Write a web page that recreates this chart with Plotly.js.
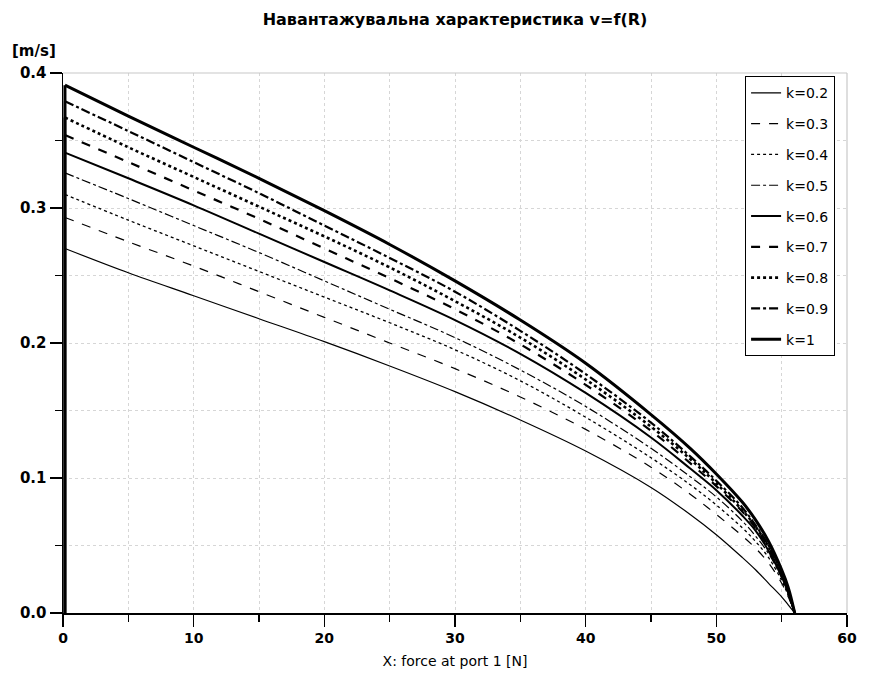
<!DOCTYPE html>
<html>
<head>
<meta charset="utf-8">
<script src="https://cdn.plot.ly/plotly-3.0.1.min.js"></script>
<style>html,body{margin:0;padding:0;background:#fff;}#chart{width:882px;height:675px;}</style>
</head>
<body>
<div id="chart"></div>
<script>
// force values [N]
const forceX = [0.15, 5, 10, 15, 20, 25, 30, 35, 40, 45, 48, 50, 52, 53, 54, 55, 55.5, 56];

// velocity [m/s] for each k
const v_k02 = [0.270, 0.252, 0.235, 0.218, 0.201, 0.183, 0.164, 0.143, 0.120, 0.093, 0.073, 0.058, 0.041, 0.032, 0.022, 0.012, 0.006, 0];
const v_k03 = [0.293, 0.275, 0.257, 0.238, 0.219, 0.200, 0.181, 0.160, 0.136, 0.108, 0.088, 0.073, 0.057, 0.048, 0.037, 0.022, 0.012, 0];
const v_k04 = [0.310, 0.291, 0.272, 0.253, 0.234, 0.215, 0.195, 0.172, 0.145, 0.115, 0.095, 0.080, 0.063, 0.053, 0.041, 0.024, 0.013, 0];
const v_k05 = [0.326, 0.307, 0.287, 0.267, 0.246, 0.225, 0.204, 0.180, 0.153, 0.122, 0.101, 0.086, 0.068, 0.057, 0.044, 0.026, 0.014, 0];
const v_k06 = [0.341, 0.322, 0.302, 0.281, 0.260, 0.239, 0.217, 0.192, 0.163, 0.130, 0.107, 0.091, 0.072, 0.061, 0.046, 0.027, 0.015, 0];
const v_k07 = [0.354, 0.334, 0.313, 0.292, 0.270, 0.248, 0.225, 0.199, 0.169, 0.135, 0.111, 0.094, 0.075, 0.063, 0.048, 0.028, 0.016, 0];
const v_k08 = [0.367, 0.345, 0.323, 0.301, 0.279, 0.256, 0.231, 0.204, 0.173, 0.138, 0.114, 0.096, 0.076, 0.064, 0.049, 0.029, 0.016, 0];
const v_k09 = [0.379, 0.357, 0.334, 0.311, 0.287, 0.263, 0.238, 0.209, 0.177, 0.141, 0.116, 0.098, 0.078, 0.065, 0.050, 0.029, 0.017, 0];
const v_k10 = [0.391, 0.368, 0.345, 0.322, 0.298, 0.273, 0.246, 0.217, 0.185, 0.147, 0.122, 0.103, 0.082, 0.069, 0.053, 0.032, 0.019, 0];

const seriesNames = ["k=0.2", "k=0.3", "k=0.4", "k=0.5", "k=0.6", "k=0.7", "k=0.8", "k=0.9", "k=1"];
const seriesValues = [v_k02, v_k03, v_k04, v_k05, v_k06, v_k07, v_k08, v_k09, v_k10];

const styles = [
  {dash: "solid", width: 1.2},
  {dash: "dash", width: 1.2},
  {dash: "dot", width: 1.3},
  {dash: "dashdot", width: 1.2},
  {dash: "solid", width: 2},
  {dash: "dash", width: 2.2},
  {dash: "dot", width: 2.6},
  {dash: "dashdot", width: 2.2},
  {dash: "solid", width: 3}
];

const traces = [];
// vertical start-up segment of each curve (from v=0 to its first value)
seriesNames.forEach((name, i) => {
  traces.push({
    type: "scatter", mode: "lines", showlegend: false, legendgroup: "g" + i,
    x: [forceX[0], forceX[0]], y: [0, seriesValues[i][0]],
    line: {color: "#000", width: styles[i].width, dash: "solid"}
  });
});
seriesNames.forEach((name, i) => {
  traces.push({
    type: "scatter",
    mode: "lines",
    name: name,
    legendgroup: "g" + i,
    x: forceX,
    y: seriesValues[i],
    line: {color: "#000", dash: styles[i].dash, width: styles[i].width, shape: "spline", smoothing: 1}
  });
});

const gridColor = "#d6d6d6";
const fontFam = "DejaVu Sans, Verdana, sans-serif";

const layout = {
  width: 882,
  height: 675,
  margin: {l: 63, r: 35, t: 73, b: 62},
  paper_bgcolor: "#fff",
  plot_bgcolor: "#fff",
  font: {family: fontFam, color: "#000"},
  title: {
    text: "<b>Навантажувальна характеристика v=f(R)</b>",
    font: {size: 16, family: fontFam, color: "#000"},
    x: 0.5, xref: "paper", xanchor: "center",
    y: 1 - 19 / 675, yref: "container", yanchor: "middle"
  },
  xaxis: {
    range: [0, 60],
    dtick: 10,
    tick0: 0,
    showline: true, linecolor: "#000", linewidth: 1.5,
    ticks: "outside", ticklen: 12, tickwidth: 1.5, tickcolor: "#000",
    tickfont: {size: 14, family: fontFam, weight: "bold"},
    showgrid: true, gridcolor: gridColor, griddash: "dot", gridwidth: 1,
    zeroline: false,
    minor: {dtick: 5, ticks: "outside", ticklen: 7, tickwidth: 1.5, tickcolor: "#000",
            showgrid: true, gridcolor: gridColor, griddash: "dot", gridwidth: 1},
    title: {text: "X: force at port 1 [N]", font: {size: 14, family: fontFam}, standoff: 11}
  },
  yaxis: {
    range: [0, 0.4],
    dtick: 0.1,
    tick0: 0,
    tickformat: ".1f",
    showline: true, linecolor: "#000", linewidth: 1.5,
    ticks: "outside", ticklen: 12, tickwidth: 1.5, tickcolor: "#000",
    tickfont: {size: 15, family: fontFam, weight: "bold"},
    showgrid: true, gridcolor: gridColor, griddash: "dot", gridwidth: 1,
    zeroline: false,
    minor: {dtick: 0.05, ticks: "outside", ticklen: 7, tickwidth: 1.5, tickcolor: "#000",
            showgrid: true, gridcolor: gridColor, griddash: "dot", gridwidth: 1}
  },
  showlegend: true,
  legend: {
    x: 0.87, xanchor: "left", xref: "paper",
    y: 0.994, yanchor: "top", yref: "paper",
    bgcolor: "#fff", bordercolor: "#000", borderwidth: 1,
    font: {size: 14, family: fontFam},
    tracegroupgap: 9.6,
    itemwidth: 30
  },
  shapes: [
    {type: "line", xref: "paper", yref: "paper", x0: 0, x1: 1, y0: 1, y1: 1, line: {color: "#c8c8c8", width: 1.2}},
    {type: "line", xref: "paper", yref: "paper", x0: 1, x1: 1, y0: 0, y1: 1, line: {color: "#c8c8c8", width: 1.2}}
  ],
  annotations: [
    {text: "<b>[m/s]</b>", xref: "paper", yref: "paper", x: -0.068, y: 1 + 22 / 540,
     xanchor: "left", yanchor: "middle", showarrow: false,
     font: {size: 15, family: fontFam, color: "#000"}}
  ]
};

Plotly.newPlot("chart", traces, layout, {staticPlot: true, displayModeBar: false});
</script>
</body>
</html>
